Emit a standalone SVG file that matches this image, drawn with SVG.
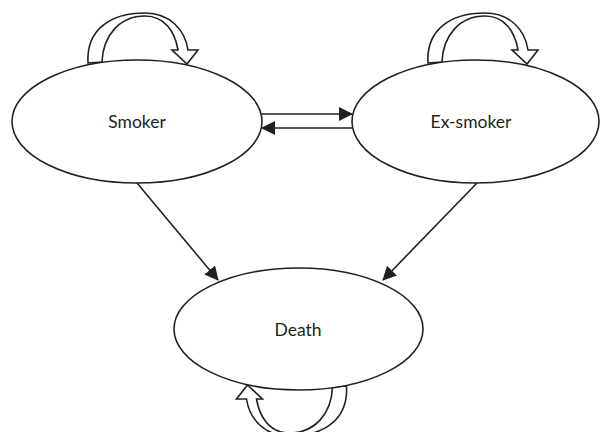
<svg xmlns="http://www.w3.org/2000/svg" width="601" height="432" viewBox="0 0 601 432">
<style>
.node ellipse{fill:#fff;stroke:#231f20;stroke-width:1.6}
.node text{font-family:Lato,"Noto Sans",sans-serif;font-size:17.5px;fill:#231f20;text-anchor:middle}
.conn line{stroke:#231f20;stroke-width:1.6}
.loop{fill:#fff;stroke:#231f20;stroke-width:1.6;stroke-linejoin:miter}
</style>
<defs>
<marker id="ah" markerWidth="14" markerHeight="14" viewBox="0 0 14 14" refX="13" refY="7" orient="auto" markerUnits="userSpaceOnUse">
<path d="M0,0 L14,7 L0,14 Z" fill="#231f20"/>
</marker>
<path id="loopShape" d="M88,63 C86,30 110,13 145,13 C170,13 185,30 188,50 L198,50 L187,64 L172,50 L178,50 C175,32 165,16 145,16 C120,16 103,35 102,62 Z"/>
</defs>
<g id="loops">
<use href="#loopShape" class="loop"/>
<use href="#loopShape" class="loop" transform="translate(340,0)"/>
<use href="#loopShape" class="loop" transform="translate(434.5,449) rotate(180)"/>
</g>
<g id="smoker" class="node">
<ellipse cx="137" cy="121.5" rx="125" ry="61.5"/>
<text x="137" y="128">Smoker</text>
</g>
<g id="exsmoker" class="node">
<ellipse cx="475.5" cy="121.5" rx="123.5" ry="61.5"/>
<text x="471" y="128">Ex-smoker</text>
</g>
<g id="death" class="node">
<ellipse cx="298.5" cy="329" rx="124.5" ry="61"/>
<text x="298" y="336">Death</text>
</g>
<g id="connectors" class="conn">
<line x1="262" y1="114" x2="352" y2="114" marker-end="url(#ah)"/>
<line x1="352" y1="128" x2="262" y2="128" marker-end="url(#ah)"/>
<line x1="137" y1="183" x2="218" y2="280" marker-end="url(#ah)"/>
<line x1="477" y1="183" x2="383" y2="280" marker-end="url(#ah)"/>
</g>
</svg>
